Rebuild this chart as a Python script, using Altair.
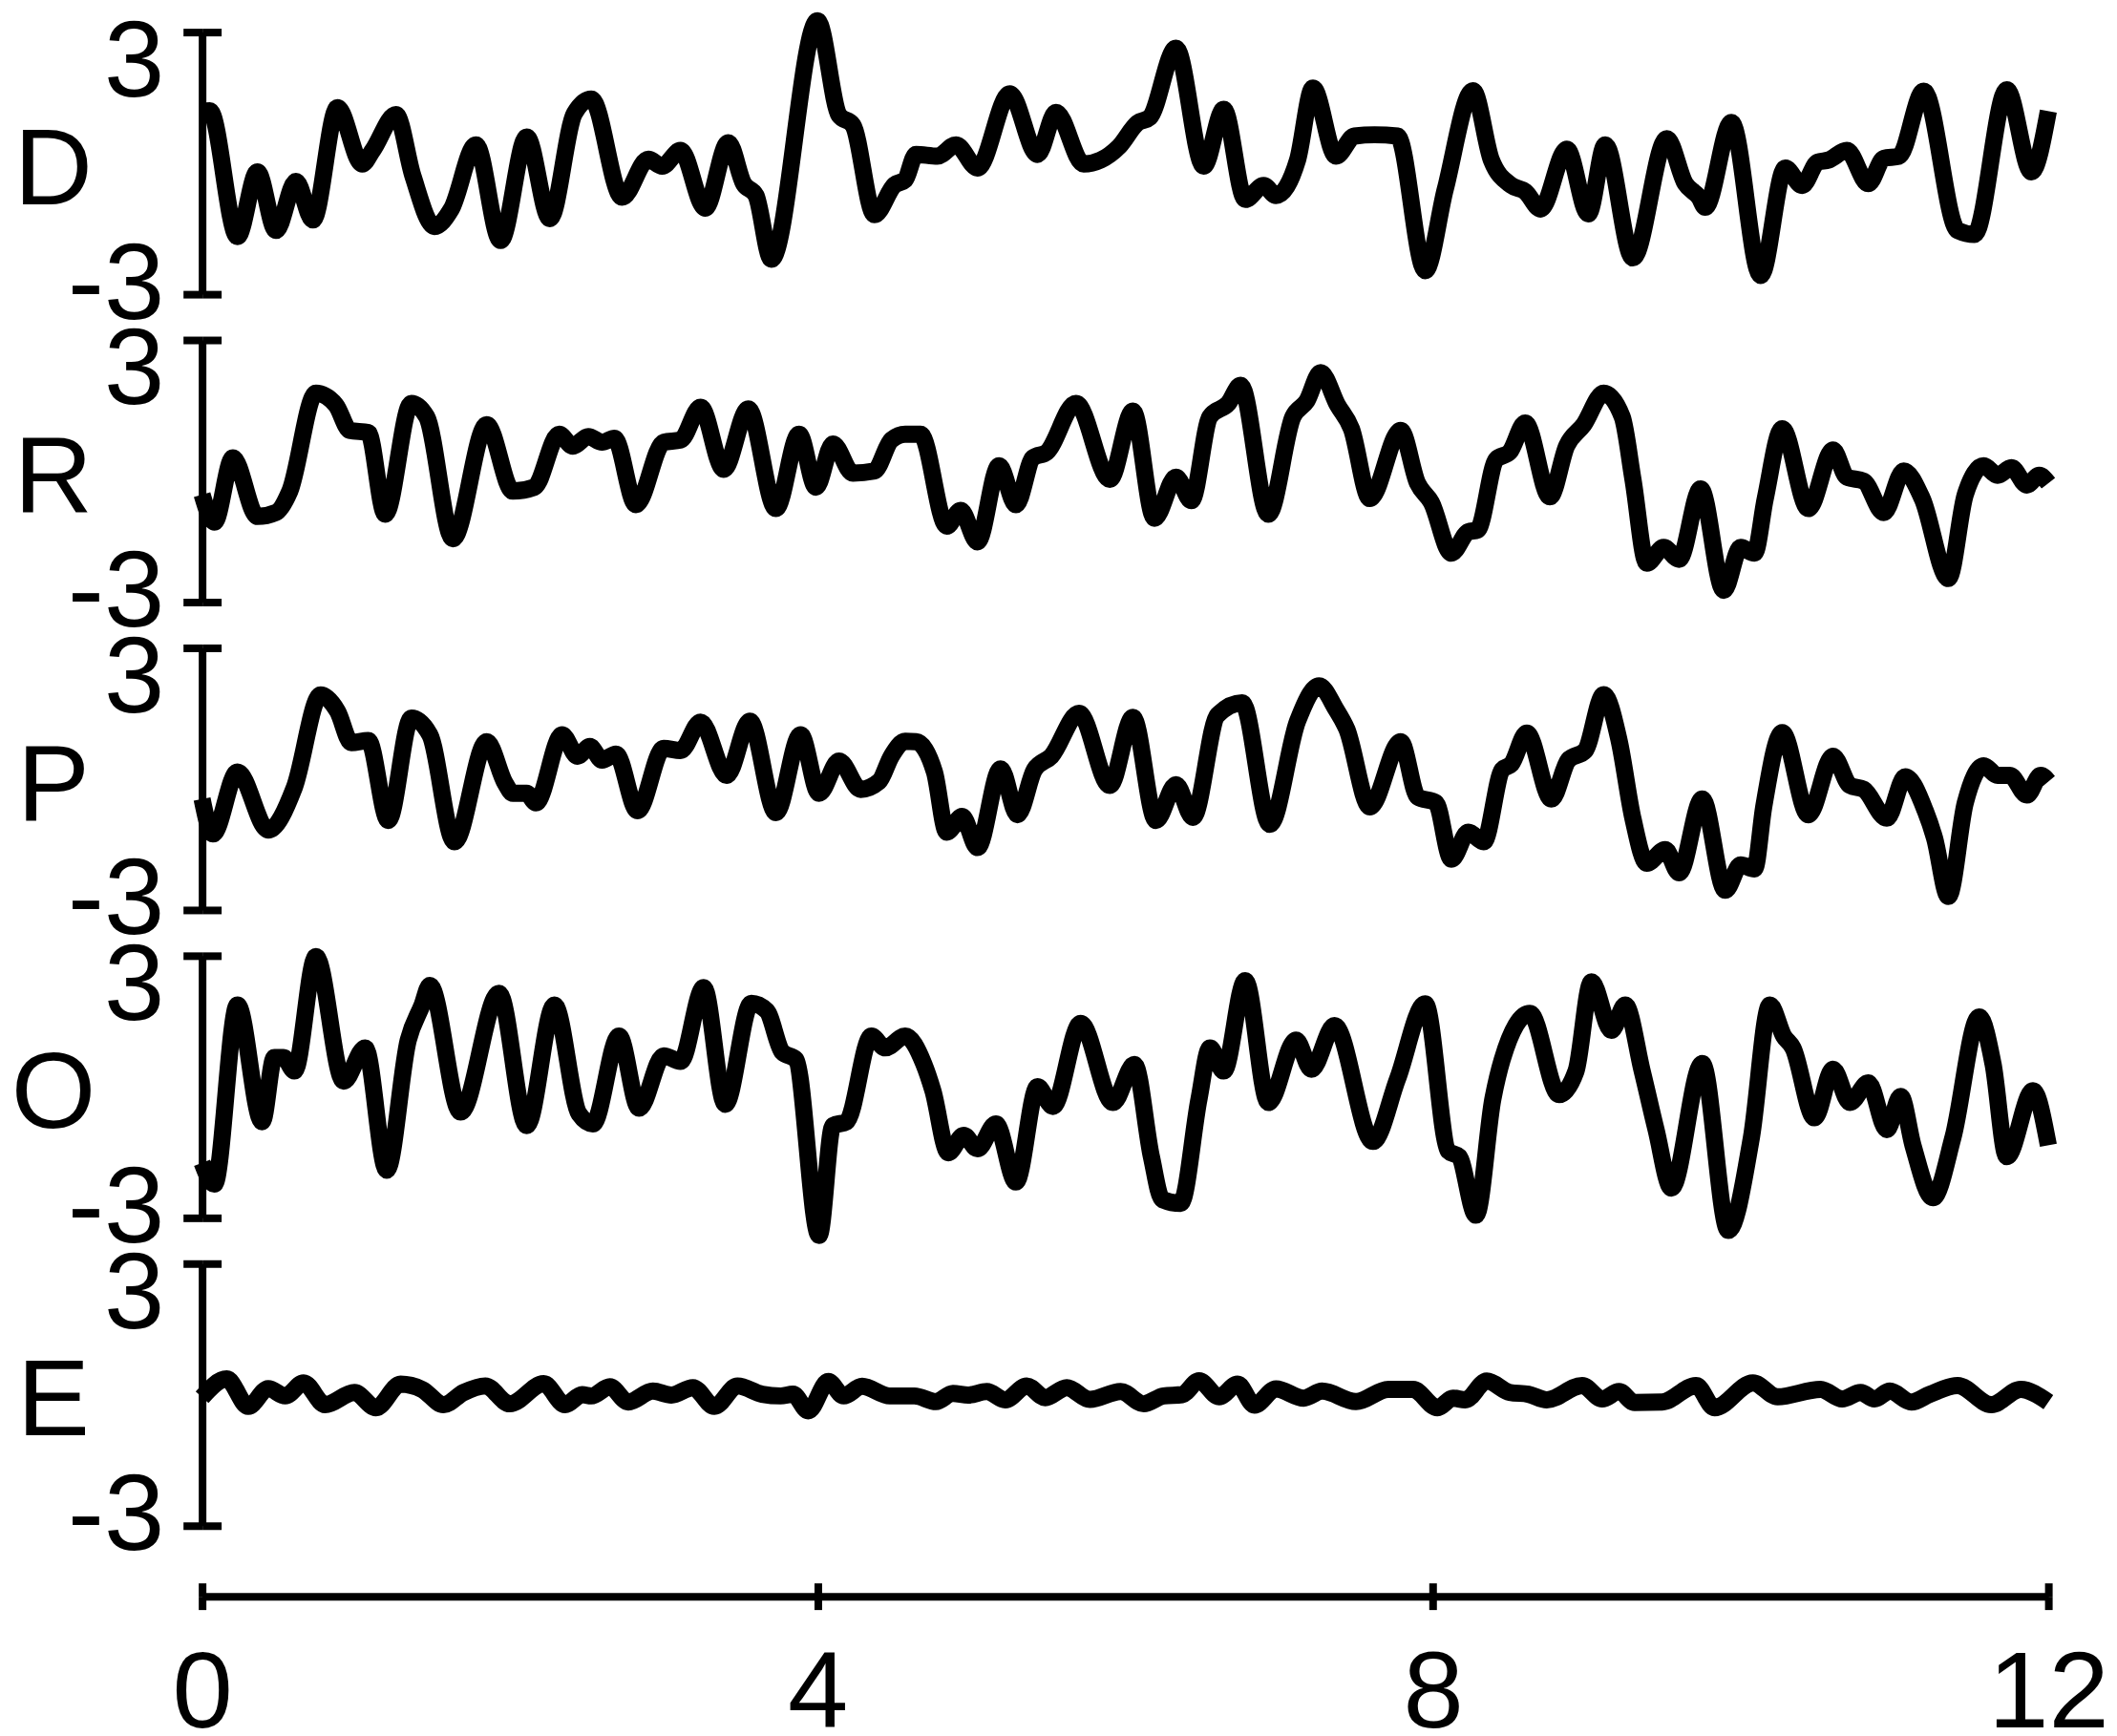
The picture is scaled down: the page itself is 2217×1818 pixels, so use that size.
import altair as alt
import pandas as pd

# ---------------- data ----------------
D_t = [0.0, 0.05, 0.23, 0.36, 0.48, 0.61, 0.72, 0.88, 1.04, 1.11, 1.26, 1.37, 1.51, 1.62, 1.78, 1.94,
       2.11, 2.26, 2.42, 2.53, 2.73, 2.90, 2.99, 3.11, 3.27, 3.42, 3.52, 3.60, 3.70, 4.00, 4.14, 4.23,
       4.37, 4.50, 4.57, 4.64, 4.78, 4.90, 5.04, 5.25, 5.43, 5.55, 5.73, 5.84, 5.96, 6.08, 6.16, 6.33,
       6.51, 6.64, 6.78, 6.90, 6.98, 7.12, 7.22, 7.37, 7.49, 7.62, 7.77, 7.95, 8.08, 8.26, 8.38, 8.51,
       8.60, 8.70, 8.87, 9.01, 9.12, 9.30, 9.52, 9.64, 9.73, 9.77, 9.94, 10.13, 10.29, 10.40, 10.50,
       10.57, 10.69, 10.83, 10.93, 11.03, 11.19, 11.41, 11.52, 11.73, 11.89, 12.0]
D_v = [1.19, 1.2, -1.68, -0.2, -1.54, -0.42, -1.30, 1.27, -0.02, 0.3, 1.11, -0.29, -1.45, -1.05, 0.42, -1.77,
       0.6, -1.27, 1.14, 1.47, -0.78, 0.09, -0.07, 0.29, -1.03, 0.47, -0.47, -0.74, -2.2, 3.26, 1.1, 0.87,
       -1.18, -0.5, -0.38, 0.2, 0.16, 0.42, -0.11, 1.59, 0.2, 1.16, -0.02, 0.07, 0.38, 0.92, 1.05, 2.63,
       -0.07, 1.23, -0.83, -0.51, -0.74, 0.07, 1.72, 0.16, 0.62, 0.65, 0.62, -2.46, -0.6, 1.66, 0.07, -0.51,
       -0.65, -1.05, 0.32, -1.16, 0.42, -2.17, 0.56, -0.47, -0.78, -1.01, 0.93, -2.57, -0.11, -0.51, 0.02,
       0.07, 0.29, -0.47, 0.11, 0.16, 1.65, -1.54, -1.63, 1.68, -0.2, 1.19]

R_t = [0.0, 0.08, 0.20, 0.36, 0.48, 0.57, 0.74, 0.87, 0.96, 1.08, 1.19, 1.36, 1.46, 1.63, 1.85, 2.02,
       2.16, 2.32, 2.41, 2.51, 2.60, 2.68, 2.82, 3.00, 3.11, 3.24, 3.39, 3.55, 3.73, 3.88, 3.99, 4.10,
       4.23, 4.37, 4.48, 4.57, 4.67, 4.84, 4.93, 5.04, 5.18, 5.29, 5.40, 5.49, 5.68, 5.90, 6.05, 6.19,
       6.33, 6.43, 6.55, 6.67, 6.75, 6.93, 7.09, 7.18, 7.27, 7.38, 7.47, 7.59, 7.79, 7.90, 7.99, 8.12,
       8.23, 8.29, 8.41, 8.50, 8.60, 8.76, 8.87, 8.98, 9.11, 9.23, 9.30, 9.39, 9.50, 9.60, 9.74, 9.89,
       10.0, 10.09, 10.16, 10.27, 10.44, 10.60, 10.69, 10.80, 10.93, 11.06, 11.18, 11.35, 11.46, 11.58,
       11.67, 11.76, 11.86, 11.94, 12.0]
R_v = [-0.54, -1.17, 0.3, -1.04, -0.95, -0.46, 1.78, 1.51, 0.93, 0.88, -0.99, 1.55, 1.24, -1.55, 1.06, -0.46,
       -0.37, 0.84, 0.57, 0.79, 0.66, 0.75, -0.77, 0.66, 0.71, 1.46, 0.04, 1.42, -0.86, 0.84, -0.37, 0.62,
       -0.05, 0.0, 0.71, 0.84, 0.84, -1.26, -0.9, -1.62, 0.12, -0.77, 0.3, 0.43, 1.55, -0.19, 1.37, -1.08,
       -0.14, -0.68, 1.24, 1.55, 1.96, -0.99, 1.24, 1.6, 2.25, 1.51, 0.97, -0.63, 0.93, -0.28, -0.72, -1.88,
       -1.39, -1.35, 0.26, 0.44, 1.1, -0.59, 0.58, 1.06, 1.78, 1.24, -0.19, -2.11, -1.75, -2.02, -0.41, -2.73,
       -1.75, -1.88, -0.63, 0.97, -0.86, 0.48, -0.14, -0.23, -0.95, 0.0, -0.63, -2.46, -0.54, 0.12,
       -0.1, 0.08, -0.32, -0.1, -0.28]

P_t = [0.0, 0.07, 0.23, 0.43, 0.60, 0.77, 0.88, 0.97, 1.08, 1.21, 1.36, 1.48, 1.64, 1.85, 1.97, 2.02,
       2.11, 2.17, 2.34, 2.44, 2.52, 2.60, 2.69, 2.83, 3.00, 3.11, 3.24, 3.41, 3.56, 3.73, 3.89, 4.01,
       4.14, 4.28, 4.40, 4.48, 4.57, 4.64, 4.76, 4.84, 4.94, 5.04, 5.19, 5.30, 5.41, 5.52, 5.70, 5.90,
       6.05, 6.20, 6.33, 6.44, 6.60, 6.76, 6.94, 7.12, 7.26, 7.37, 7.44, 7.59, 7.79, 7.90, 8.02, 8.12,
       8.23, 8.33, 8.45, 8.51, 8.61, 8.77, 8.88, 8.99, 9.11, 9.21, 9.30, 9.39, 9.51, 9.60, 9.75, 9.90,
       10.0, 10.09, 10.15, 10.27, 10.44, 10.60, 10.71, 10.80, 10.95, 11.07, 11.20, 11.26, 11.35, 11.46,
       11.58, 11.67, 11.75, 11.86, 11.95, 12.0]
P_v = [-0.46, -1.26, 0.16, -1.17, -0.19, 1.92, 1.55, 0.83, 0.88, -0.95, 1.39, 1.01, -1.44, 0.85, -0.1, -0.33,
       -0.33, -0.55, 1.01, 0.52, 0.74, 0.43, 0.57, -0.73, 0.7, 0.65, 1.30, 0.08, 1.32, -0.77, 1.01, -0.33,
       0.41, -0.24, -0.06, 0.52, 0.86, 0.85, 0.16, -1.22, -0.86, -1.57, 0.23, -0.82, 0.21, 0.52, 1.50, -0.15,
       1.41, -0.95, -0.13, -0.88, 1.46, 1.74, -1.04, 1.32, 2.13, 1.59, 1.14, -0.64, 0.85, -0.41, -0.55, -1.84,
       -1.22, -1.44, 0.21, 0.34, 1.05, -0.46, 0.43, 0.65, 1.93, 0.88, -0.91, -1.93, -1.62, -2.15, -0.46, -2.55,
       -1.97, -2.06, -0.64, 1.06, -0.82, 0.52, -0.15, -0.24, -0.9, 0.05, -0.73, -1.35, -2.69, -0.55,
       0.3, 0.08, 0.08, -0.37, 0.08, -0.06]

O_t = [0.0, 0.08, 0.23, 0.39, 0.47, 0.53, 0.60, 0.74, 0.92, 1.06, 1.20, 1.34, 1.43, 1.48, 1.68, 1.93,
       2.11, 2.29, 2.45, 2.54, 2.71, 2.84, 3.00, 3.11, 3.26, 3.40, 3.57, 3.67, 3.77, 3.86, 4.01, 4.10,
       4.19, 4.35, 4.44, 4.57, 4.69, 4.75, 4.85, 4.95, 5.04, 5.16, 5.29, 5.43, 5.53, 5.71, 5.92, 6.06,
       6.17, 6.24, 6.36, 6.48, 6.55, 6.64, 6.78, 6.93, 7.11, 7.21, 7.36, 7.61, 7.77, 7.95, 8.10, 8.17,
       8.28, 8.39, 8.45, 8.63, 8.82, 8.93, 9.03, 9.16, 9.25, 9.36, 9.45, 9.55, 9.75, 9.92, 10.07, 10.19,
       10.28, 10.34, 10.48, 10.60, 10.71, 10.83, 10.95, 11.04, 11.12, 11.25, 11.38, 11.55, 11.64, 11.73,
       11.90, 12.0]
O_v = [-1.74, -2.23, 1.87, -0.8, 0.67, 0.67, 0.36, 2.98, 0.13, 0.89, -1.91, 1.07, 1.87, 2.32, -0.58, 2.14,
       -0.89, 1.87, -0.62, -0.85, 1.16, -0.49, 0.71, 0.58, 2.27, -0.4, 1.91, 1.74, 0.8, 0.62, -3.4, -0.89,
       -0.8, 1.16, 0.89, 1.16, 0.53, -0.09, -1.51, -1.11, -1.42, -0.85, -2.18, 0.0, -0.45, 1.45, -0.36, 0.51,
       -1.6, -2.58, -2.67, -0.27, 0.89, 0.36, 2.43, -0.36, 1.07, 0.4, 1.4, -1.25, 0.18, 1.9, -1.47, -1.6,
       -2.94, -0.27, 0.62, 1.68, -0.18, 0.36, 2.4, 1.29, 1.87, 0.36, -0.98, -2.32, 0.53, -3.29, -1.16, 1.87,
       1.16, 0.89, -0.71, 0.4, -0.36, 0.09, -0.98, -0.22, -1.34, -2.54, -1.16, 1.6, 0.53, -1.6,
       -0.09, -1.34]

E_t = [0.0, 0.16, 0.30, 0.43, 0.54, 0.66, 0.80, 0.99, 1.13, 1.29, 1.43, 1.57, 1.70, 1.84, 2.00, 2.22,
       2.36, 2.47, 2.53, 2.65, 2.77, 2.93, 3.05, 3.19, 3.33, 3.48, 3.64, 3.76, 3.84, 3.94, 4.07, 4.17,
       4.29, 4.47, 4.63, 4.77, 4.88, 4.98, 5.10, 5.22, 5.36, 5.48, 5.62, 5.77, 5.97, 6.12, 6.25, 6.37,
       6.48, 6.61, 6.73, 6.84, 6.98, 7.16, 7.28, 7.50, 7.71, 7.87, 8.03, 8.13, 8.21, 8.35, 8.50, 8.62,
       8.74, 8.97, 9.10, 9.21, 9.31, 9.49, 9.71, 9.83, 10.08, 10.24, 10.52, 10.66, 10.78, 10.87, 10.97,
       11.11, 11.23, 11.41, 11.63, 11.82, 12.0]
E_v = [-0.06, 0.36, -0.27, 0.14, -0.03, 0.27, -0.23, 0.05, -0.3, 0.24, 0.12, -0.23, 0.05, 0.2, -0.21, 0.25,
       -0.23, 0.0, -0.03, 0.18, -0.17, 0.08, -0.01, 0.16, -0.27, 0.2, 0.01, -0.03, 0.01, -0.37, 0.3, -0.03,
       0.19, -0.03, -0.03, -0.16, 0.03, -0.01, 0.07, -0.12, 0.2, -0.07, 0.16, -0.11, 0.07, -0.21, -0.03, 0.0,
       0.32, -0.05, 0.24, -0.24, 0.13, -0.08, 0.08, -0.16, 0.12, 0.12, -0.3, -0.08, -0.12, 0.31, 0.05, 0.01,
       -0.12, 0.21, -0.1, 0.07, -0.18, -0.17, 0.21, -0.3, 0.27, -0.05, 0.12, -0.1, 0.05, -0.1, 0.08,
       -0.17, 0.01, 0.21, -0.23, 0.12, -0.17]

series_names = ["D", "R", "P", "O", "E"]
series_data = [(D_t, D_v), (R_t, R_v), (P_t, P_v), (O_t, O_v), (E_t, E_v)]
x_ticks = [0, 4, 8, 12]
y_ticks = [-3, 3]

# ---------------- layout / style ----------------
W = 1937
H = 275
FONT = "Liberation Sans"
FS = 114
X_OFFSET = 74


def panel(name, ts, vs, last=False):
    df = pd.DataFrame({"t": ts, "v": vs})
    xscale = alt.Scale(domain=[0, 12], nice=False, zero=False)
    yscale = alt.Scale(domain=[-3, 3], nice=False, zero=False)

    if last:
        xaxis = alt.Axis(values=x_ticks, orient="bottom", offset=X_OFFSET, domainWidth=8,
                         domainColor="black", tickWidth=8, tickSize=14, tickColor="black",
                         labelFontSize=FS, labelFont=FONT, labelPadding=33, labelColor="black",
                         labelFlush=False, labelOverlap=False, grid=False, title=None)
    else:
        xaxis = None

    yaxis = alt.Axis(values=y_ticks, orient="left", domainWidth=8, domainColor="black",
                     tickWidth=8, tickSize=20, tickColor="black",
                     labelFontSize=FS, labelFont=FONT, labelPadding=20, labelColor="black",
                     labelAlign="right", labelBaseline="middle",
                     labelExpr="datum.value < 0 ? '-' + abs(datum.value) : '' + datum.value",
                     labelOffset={"condition": {"test": "datum.value > 0", "value": 33}, "value": -9},
                     labelFlush=False, labelOverlap=False, grid=False,
                     title=name, titleFont=FONT, titleFontSize=FS, titleFontWeight="normal",
                     titleAngle=0, titleAlign="center", titleBaseline="middle",
                     titleX=-156.5, titleY=146, titleColor="black")

    line = alt.Chart(df).mark_line(color="black", strokeWidth=18, interpolate="monotone",
                                   strokeJoin="round").encode(
        x=alt.X("t:Q", scale=xscale, axis=xaxis),
        y=alt.Y("v:Q", scale=yscale, axis=yaxis),
    )
    # invisible layer carrying the inner halves of the y ticks
    ghost = alt.Chart(df).mark_line(opacity=0).encode(
        x=alt.X("t:Q", scale=xscale, axis=None),
        y=alt.Y("v:Q", scale=yscale,
                axis=alt.Axis(values=y_ticks, orient="right", offset=-W, domain=False,
                              labels=False, tickSize=20, tickWidth=8, tickColor="black",
                              grid=False, title=None)),
    )
    layers = [line, ghost]
    if last:
        ghost2 = alt.Chart(df).mark_line(opacity=0).encode(
            x=alt.X("t:Q", scale=xscale,
                    axis=alt.Axis(values=x_ticks, orient="top", offset=-(H + X_OFFSET),
                                  domain=False, labels=False, tickSize=14, tickWidth=8,
                                  tickColor="black", grid=False, title=None)),
            y=alt.Y("v:Q", scale=yscale, axis=None),
        )
        layers.append(ghost2)
        res = dict(x="independent", y="independent")
    else:
        res = dict(y="independent")
    return alt.layer(*layers).resolve_scale(**res).properties(width=W, height=H)


panels = [panel(n, t, v, last=(i == 4)) for i, (n, (t, v)) in enumerate(zip(series_names, series_data))]

chart = alt.vconcat(*panels, spacing=48, bounds="flush").resolve_scale(
    x="independent", y="independent"
).properties(
    padding={"left": 3, "top": 0, "right": 0, "bottom": 0},
    background="white",
).configure_view(stroke=None)

chart.save("out.html", embed_options={"renderer": "svg", "actions": False})
